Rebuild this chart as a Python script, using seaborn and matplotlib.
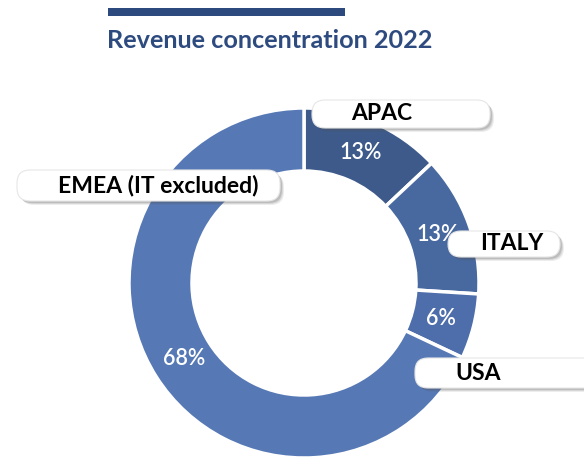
import matplotlib
matplotlib.use("Agg")
import matplotlib.pyplot as plt
from matplotlib.patches import FancyBboxPatch
import seaborn as sns

regions = ["APAC", "ITALY", "USA", "EMEA (IT excluded)"]
shares = [13, 13, 6, 68]
colors = ["#3d5a8a", "#4868a0", "#4d6eaa", "#5679b6"]
title = "Revenue concentration 2022"

sns.set_theme(style="white")
plt.rcParams["font.family"] = ["Lato", "DejaVu Sans"]

W, H = 584, 459
fig = plt.figure(figsize=(W / 100, H / 100), dpi=100)
ax = fig.add_axes([0, 0, 1, 1])

# donut, clockwise from 12 o'clock
cx, cy, R = 304, H - 283, 175
wedges, _, pcts = ax.pie(
    shares, colors=colors, startangle=90, counterclock=False,
    center=(cx, cy), radius=R, autopct="%.0f%%", pctdistance=0.81,
    wedgeprops=dict(width=R * 0.36, edgecolor="white", linewidth=2.5),
    textprops=dict(color="white", fontsize=15.5, fontweight="semibold"),
)
ax.set_xlim(0, W)
ax.set_ylim(0, H)
ax.set_aspect("equal")
ax.axis("off")

# header bar + title
ax.add_patch(plt.Rectangle((108, H - 16), 237, 8, color="#2c4a7e", lw=0))
ax.text(107, H - 40, title, color="#2e4b80", fontsize=18.2, fontweight="bold",
        va="center", ha="left")

# callout boxes (x0, y0_img, w, h, text_x)
boxes = {
    "APAC": (312, 100, 178, 28, 382),
    "EMEA (IT excluded)": (17, 170, 263, 31, 158),
    "ITALY": (448, 231, 112, 26, 512),
    "USA": (415, 358, 185, 30, 478),
}
for name in regions:
    x0, y0, w, h, tx = boxes[name]
    yb = H - y0 - h
    for k, a in [(4, 0.10), (3, 0.15), (2, 0.2)]:
        ax.add_patch(FancyBboxPatch((x0 + k, yb - k), w, h,
                     boxstyle="round,pad=0,rounding_size=13",
                     fc="#555555", ec="none", alpha=a, zorder=4))
    ax.add_patch(FancyBboxPatch((x0, yb), w, h,
                 boxstyle="round,pad=0,rounding_size=13",
                 fc="white", ec="#e6e6e6", lw=0.8, zorder=5))
    ax.text(tx, yb + h / 2, name, fontsize=16.5, fontweight="bold",
            color="black", ha="center", va="center", zorder=6)

fig.savefig("out.png", dpi=100)
